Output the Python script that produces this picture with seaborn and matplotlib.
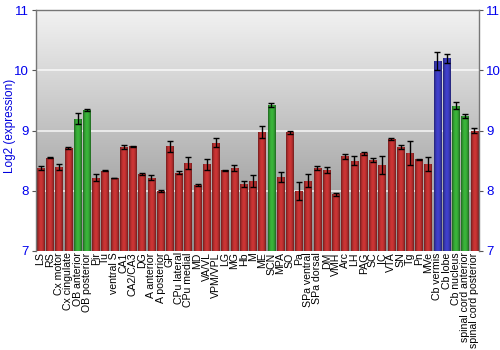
import numpy as np
import pandas as pd
import matplotlib
matplotlib.use("Agg")
import matplotlib.pyplot as plt
import seaborn as sns
from matplotlib.colors import LinearSegmentedColormap

regions = ["LS", "RS", "Cx motor", "Cx cingulate", "OB anterior", "OB posterior", "Pir", "Tu",
           "ventral S", "CA1", "CA2/CA3", "DG", "A anterior", "A posterior", "GP", "CPu lateral",
           "CPu medial", "MD", "VA/VL", "VPM/VPL", "LG", "MG", "Hb", "M", "ME", "SCN", "MPA", "SO",
           "Pa", "SPa ventral", "SPa dorsal", "DM", "VMH", "Arc", "LH", "PAG", "SC", "IC", "VTA",
           "SN", "Tg", "Pn", "MVe", "Cb vermis", "Cb lobe", "Cb nucleus", "spinal cord anterior",
           "spinal cord posterior"]
expression = [8.38, 8.55, 8.40, 8.71, 9.20, 9.34, 8.22, 8.33,
              8.21, 8.73, 8.74, 8.28, 8.22, 8.00, 8.74, 8.30,
              8.46, 8.10, 8.44, 8.80, 8.34, 8.38, 8.12, 8.16, 8.97, 9.42, 8.23, 8.97,
              8.00, 8.17, 8.38, 8.34, 7.94, 8.57, 8.50, 8.62, 8.51, 8.42, 8.86,
              8.73, 8.63, 8.52, 8.44, 10.15, 10.20, 9.41, 9.24,
              9.00]
errors = [0.03, 0.01, 0.05, 0.01, 0.09, 0.01, 0.05, 0.01,
          0.005, 0.03, 0.01, 0.02, 0.04, 0.02, 0.09, 0.02,
          0.10, 0.02, 0.09, 0.08, 0.01, 0.05, 0.05, 0.10, 0.10, 0.03, 0.08, 0.02,
          0.15, 0.11, 0.03, 0.05, 0.03, 0.04, 0.07, 0.02, 0.03, 0.15, 0.01,
          0.03, 0.20, 0.01, 0.12, 0.15, 0.07, 0.06, 0.03,
          0.04]
groups = ["r", "r", "r", "r", "g", "g", "r", "r",
          "r", "r", "r", "r", "r", "r", "r", "r",
          "r", "r", "r", "r", "r", "r", "r", "r", "r", "g", "r", "r",
          "r", "r", "r", "r", "r", "r", "r", "r", "r", "r", "r",
          "r", "r", "r", "r", "b", "b", "g", "g",
          "r"]

base_colors = {"r": (0.70, 0.18, 0.18), "g": (0.20, 0.62, 0.20), "b": (0.22, 0.22, 0.70)}

df = pd.DataFrame({"region": regions, "expr": expression, "err": errors, "grp": groups})

plt.rcParams["font.family"] = ["Liberation Sans", "DejaVu Sans"]

fig = plt.figure(figsize=(5, 3.5), dpi=100)
ax = fig.add_axes([0.072, 0.283, 0.886, 0.688])

# background gradient
bg = LinearSegmentedColormap.from_list("bg", ["#8e8e8e", "#f2f2f2"])
ax.imshow(np.linspace(0, 1, 256).reshape(-1, 1), aspect="auto", cmap=bg,
          extent=[0, 1, 0, 1], transform=ax.transAxes, origin="lower", zorder=0)

palette = [base_colors[g] for g in groups]
sns.barplot(data=df, x="region", y="expr", hue="region", palette=palette, legend=False,
            width=0.82, ax=ax, zorder=2, linewidth=0)

ax.set_ylim(7, 11)
ax.set_xlim(-0.5, len(regions) - 0.5)

# horizontal shading gradient in bars
prof = np.linspace(-1, 1, 32)
shade = 1 - 0.45 * prof ** 2
for patch, g in zip(ax.patches, groups):
    x0, y0 = patch.get_x(), patch.get_y()
    w, h = patch.get_width(), patch.get_height()
    c = np.array(base_colors[g])
    img = np.clip(c[None, None, :] * shade[None, :, None] * 1.15, 0, 1)
    im = ax.imshow(img, aspect="auto", extent=[x0, x0 + w, 7, y0 + h], zorder=2.5,
                   interpolation="bilinear")
    im.set_clip_path(patch)

ax.errorbar(np.arange(len(regions)), expression, yerr=errors, fmt="none",
            ecolor="black", elinewidth=1, capsize=2.2, capthick=1, zorder=4)

for yv in [8, 9, 10]:
    ax.axhline(yv, color="white", lw=1.2, alpha=0.8, zorder=1)

ax.set_xlabel("")
ax.set_ylabel("Log2 (expression)", color="#0000dd", fontsize=8.5)
ax.yaxis.set_label_coords(-0.046, 0.52)
ax.set_yticks([7, 8, 9, 10, 11])
ax.tick_params(axis="y", colors="#555555", labelcolor="#0000ee", labelsize=9.5,
               length=3, direction="out", right=True, labelright=True, pad=2)
ax.tick_params(axis="x", length=0, labelsize=7.6, pad=1)
plt.setp(ax.get_xticklabels(), rotation=90)
for s in ["left", "right", "top"]:
    ax.spines[s].set_color("#777777")
    ax.spines[s].set_linewidth(1)
ax.spines["bottom"].set_visible(False)

fig.savefig("out.png", dpi=100)
